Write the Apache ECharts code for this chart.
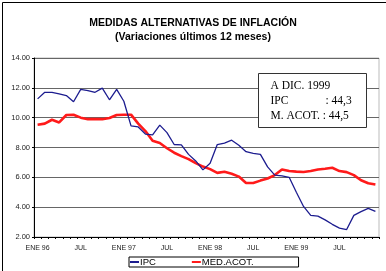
<!DOCTYPE html>
<html>
<head>
<meta charset="utf-8">
<script src="https://cdn.jsdelivr.net/npm/echarts@6/dist/echarts.min.js"></script>
<style>
  html, body { margin: 0; padding: 0; background: #fff; }
  #chart { width: 386px; height: 271px; }
</style>
</head>
<body>
<div id="chart"></div>
<script>
// meses ENE 96 .. DIC 99
const monthNames = ['ENE', 'FEB', 'MAR', 'ABR', 'MAY', 'JUN', 'JUL', 'AGO', 'SEP', 'OCT', 'NOV', 'DIC'];
const years = ['96', '97', '98', '99'];
const categories = [];
years.forEach(y => monthNames.forEach(m => categories.push(m + ' ' + y)));

const ipc = [
  11.26, 11.7, 11.7, 11.6, 11.48, 11.07, 11.9, 11.82, 11.7, 11.98, 11.2, 11.9,
  11.1, 9.45, 9.38, 8.9, 8.85, 9.5, 9.0, 8.2, 8.17, 7.54, 7.1, 6.5,
  6.95, 8.2, 8.3, 8.49, 8.15, 7.72, 7.6, 7.54, 6.7, 6.15, 6.1, 6.0,
  5.0, 4.05, 3.45, 3.4, 3.15, 2.85, 2.6, 2.5, 3.45, 3.7, 3.92, 3.72
];
const medAcot = [
  9.52, 9.6, 9.86, 9.68, 10.18, 10.2, 10.0, 9.9, 9.9, 9.9, 9.98, 10.18,
  10.2, 10.2, 9.6, 9.1, 8.45, 8.3, 7.95, 7.65, 7.42, 7.22, 6.95, 6.72,
  6.55, 6.3, 6.37, 6.24, 6.05, 5.62, 5.62, 5.78, 5.92, 6.15, 6.53, 6.42,
  6.38, 6.36, 6.42, 6.52, 6.57, 6.64, 6.42, 6.35, 6.15, 5.8, 5.6, 5.52
];

const noteLines = ['A DIC. 1999', 'IPC', 'M. ACOT.'];
const noteValues = [': 44,3', ': 44,5'];

const chart = echarts.init(document.getElementById('chart'), null, { renderer: 'canvas' });

const option = {
  backgroundColor: '#fff',
  animation: false,
  title: {
    text: 'MEDIDAS ALTERNATIVAS DE INFLACIÓN',
    subtext: '(Variaciones últimos 12 meses)',
    left: 'center',
    top: 13,
    padding: [5, 15, 5, 5], // corre el título un poco a la izquierda
    itemGap: 3,
    textStyle: { fontFamily: 'Liberation Sans', fontSize: 10.5, fontWeight: 'bold', color: '#000' },
    subtextStyle: { fontFamily: 'Liberation Sans', fontSize: 10.5, fontWeight: 'bold', color: '#000' }
  },
  grid: { left: 34, right: 7, top: 58, bottom: 34, show: true, borderColor: '#bbb', borderWidth: 1 },
  xAxis: {
    type: 'category',
    data: categories,
    boundaryGap: true,
    axisLine: { lineStyle: { color: '#000', width: 1 } },
    axisTick: { show: true, interval: 0, length: 2, lineStyle: { color: '#000' } },
    axisLabel: {
      interval: 5,
      margin: 8,
      fontFamily: 'Liberation Sans',
      fontSize: 7,
      color: '#222',
      formatter: v => v.startsWith('JUL') ? 'JUL' : v
    },
    splitLine: { show: false }
  },
  yAxis: {
    type: 'value',
    min: 2,
    max: 14,
    interval: 2,
    axisLine: { show: true, lineStyle: { color: '#000', width: 1 } },
    axisTick: { show: true, length: 2, lineStyle: { color: '#000' } },
    axisLabel: {
      margin: 4,
      fontFamily: 'Liberation Sans',
      fontSize: 7.5,
      color: '#222',
      formatter: v => v.toFixed(2)
    },
    splitLine: { show: true, lineStyle: { color: '#666', width: 1 } }
  },
  legend: {
    left: 129,
    top: 257,
    orient: 'horizontal',
    itemWidth: 9,
    itemHeight: 2,
    itemGap: 36,
    padding: [0, 45, 0, 1],
    borderColor: '#000',
    borderWidth: 1,
    textStyle: { fontFamily: 'Liberation Sans', fontSize: 9.5, color: '#000', padding: [0, 0, 0, -4] },
    data: [
      { name: 'IPC', icon: 'rect' },
      { name: 'MED.ACOT.', icon: 'rect' }
    ]
  },
  series: [
    {
      name: 'MED.ACOT.',
      type: 'line',
      data: medAcot,
      symbol: 'none',
      lineStyle: { color: '#ff1a1a', width: 2.6 },
      itemStyle: { color: '#ff1a1a' },
      z: 2
    },
    {
      name: 'IPC',
      type: 'line',
      data: ipc,
      symbol: 'none',
      lineStyle: { color: '#1c1c8f', width: 1.3 },
      itemStyle: { color: '#1c1c8f' },
      z: 3
    }
  ],
  graphic: [
    {
      type: 'rect',
      shape: { x: 2.5, y: 2.5, width: 400, height: 300 },
      style: { fill: 'none', stroke: '#000', lineWidth: 1 },
      silent: true
    },
    {
      type: 'group',
      left: 258,
      top: 73,
      children: [
        {
          type: 'rect',
          shape: { x: 0, y: 0, width: 108, height: 54 },
          style: { fill: '#fff', stroke: '#333', lineWidth: 1 },
          z: 10
        },
        {
          type: 'text',
          x: 12, y: 12,
          style: { text: noteLines[0], font: '11.5px "Liberation Serif"', fill: '#000', verticalAlign: 'middle' },
          z: 11
        },
        {
          type: 'text',
          x: 12, y: 27.5,
          style: { text: noteLines[1], font: '11.5px "Liberation Serif"', fill: '#000', verticalAlign: 'middle' },
          z: 11
        },
        {
          type: 'text',
          x: 67, y: 27.5,
          style: { text: noteValues[0], font: '11.5px "Liberation Serif"', fill: '#000', verticalAlign: 'middle' },
          z: 11
        },
        {
          type: 'text',
          x: 12, y: 42,
          style: { text: noteLines[2] + ' ' + noteValues[1], font: '11.5px "Liberation Serif"', fill: '#000', verticalAlign: 'middle' },
          z: 11
        }
      ]
    }
  ]
};

chart.setOption(option);
</script>
</body>
</html>
